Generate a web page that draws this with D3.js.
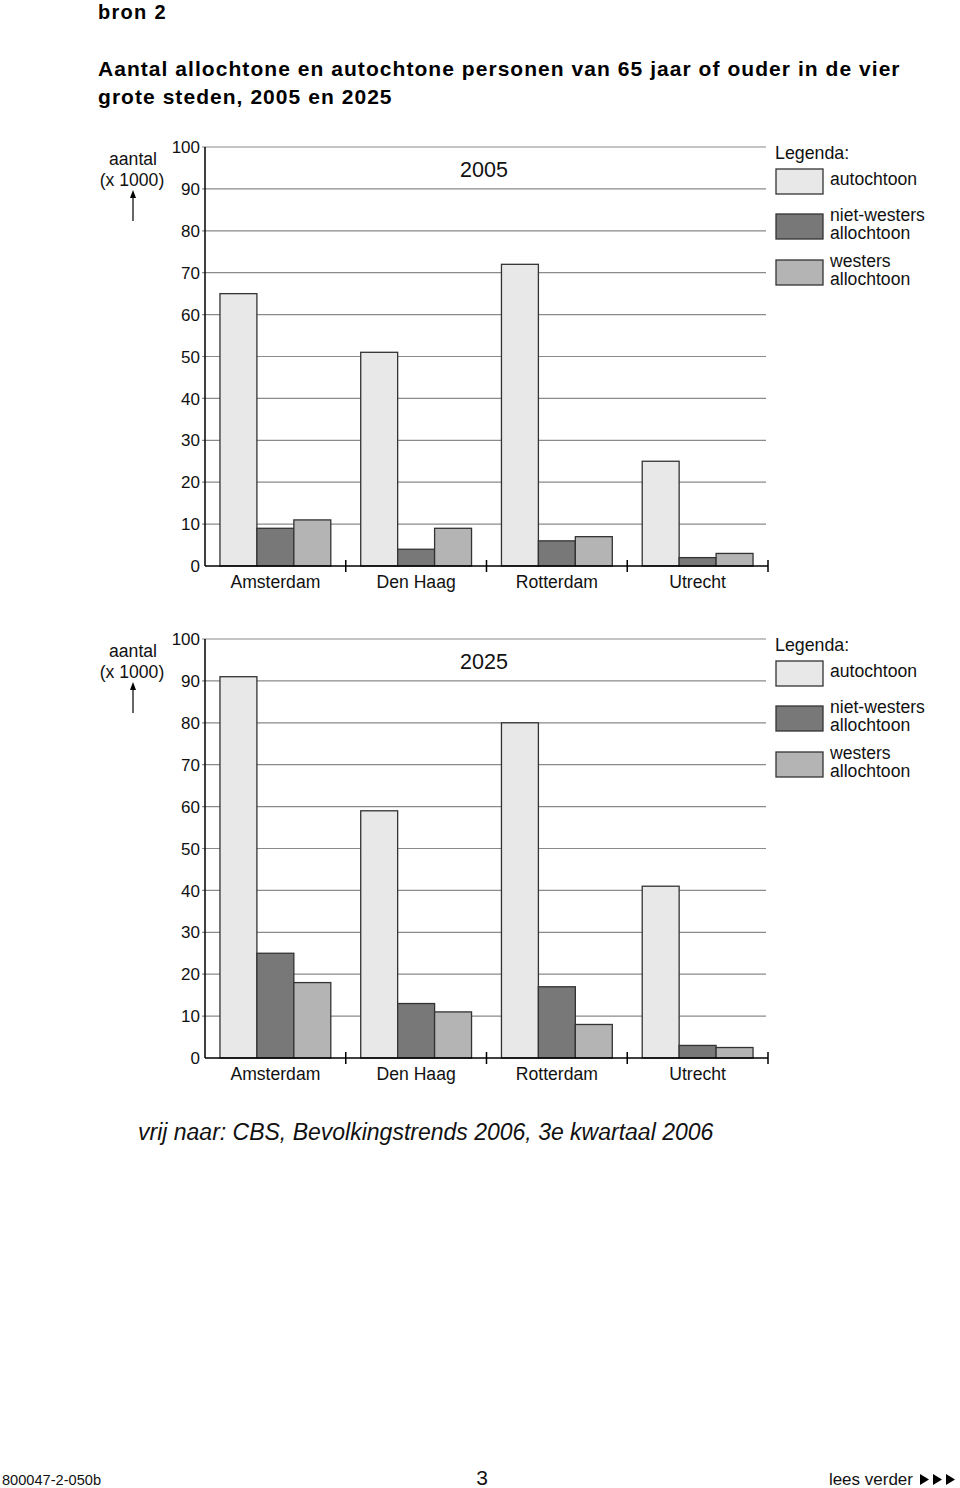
<!DOCTYPE html>
<html><head><meta charset="utf-8">
<script src="https://cdn.jsdelivr.net/npm/d3@7"></script>
<style>
body{margin:0;background:#fff;}
svg{display:block;font-family:"Liberation Sans",Arial,sans-serif;}
</style></head>
<body>
<svg id="c" width="960" height="1488"></svg>
<script>
const cities = ["Amsterdam","Den Haag","Rotterdam","Utrecht"];
const seriesKeys = ["autochtoon","niet-westers","westers"];
const legendLabels = [["autochtoon"],["niet-westers","allochtoon"],["westers","allochtoon"]];
const seriesColors = ["#e8e8e8","#787878","#b4b4b4"];
const autochtoon2005 = [65,51,72,25];
const nietWesters2005 = [9,4,6,2];
const westers2005 = [11,9,7,3];
const autochtoon2025 = [91,59,80,41];
const nietWesters2025 = [25,13,17,3];
const westers2025 = [18,11,8,2.5];
const yTicks = [0,10,20,30,40,50,60,70,80,90,100];
const years = ["2005","2025"];

const svg = d3.select("#c");

// header
svg.append("text").attr("x",98).attr("y",19).attr("font-size",20).attr("font-weight","bold").attr("letter-spacing",1.3).text("bron 2");
svg.append("text").attr("x",98).attr("y",76).attr("font-size",21).attr("font-weight","bold").attr("letter-spacing",1.05).text("Aantal allochtone en autochtone personen van 65 jaar of ouder in de vier");
svg.append("text").attr("x",98).attr("y",104).attr("font-size",21).attr("font-weight","bold").attr("letter-spacing",1.05).text("grote steden, 2005 en 2025");

function drawChart(offsetY, year, a, n, w){
  const g = svg.append("g").attr("transform",`translate(0,${offsetY})`);
  const y = d3.scaleLinear().domain([0,100]).range([566,147]);
  const x0 = d3.scaleBand().domain(cities).range([205,768]).padding(0);
  const x1 = d3.scaleBand().domain(seriesKeys).range([0,x0.bandwidth()]).paddingInner(0).paddingOuter(0.405);
  const data = cities.map((c,i)=>({city:c, vals:[a[i],n[i],w[i]]}));

  // gridlines
  g.append("g").selectAll("line").data(yTicks.filter(t=>t>0)).join("line")
    .attr("x1",202).attr("x2",766).attr("y1",d=>y(d)).attr("y2",d=>y(d))
    .attr("stroke","#8a8a8a").attr("stroke-width",1.2);

  // tick labels
  g.append("g").selectAll("text").data(yTicks).join("text")
    .attr("x",200).attr("y",d=>y(d)).attr("dy","0.36em").attr("text-anchor","end")
    .attr("font-size",17).attr("fill","#111").text(d=>d);

  // bars
  const grp = g.append("g").selectAll("g").data(data).join("g")
    .attr("transform",d=>`translate(${x0(d.city)},0)`);
  grp.selectAll("rect").data(d=>d.vals.map((v,j)=>({k:seriesKeys[j],v,j}))).join("rect")
    .attr("x",d=>x1(d.k)).attr("width",x1.bandwidth())
    .attr("y",d=>y(d.v)).attr("height",d=>y(0)-y(d.v))
    .attr("fill",d=>seriesColors[d.j]).attr("stroke","#333").attr("stroke-width",1.3);

  // axes lines
  g.append("line").attr("x1",205).attr("x2",205).attr("y1",y(100)).attr("y2",y(0)).attr("stroke","#000").attr("stroke-width",1.5);
  g.append("line").attr("x1",205).attr("x2",768).attr("y1",y(0)).attr("y2",y(0)).attr("stroke","#000").attr("stroke-width",1.5);
  // category separators
  const seps = cities.slice(1).map(c=>x0(c)).concat([x0.range()[1]]);
  g.append("g").selectAll("line").data(seps).join("line")
    .attr("x1",d=>d).attr("x2",d=>d).attr("y1",y(0)-6).attr("y2",y(0)+6)
    .attr("stroke","#000").attr("stroke-width",1.5);

  // category labels
  g.append("g").selectAll("text").data(cities).join("text")
    .attr("x",d=>x0(d)+x0.bandwidth()/2).attr("y",588).attr("text-anchor","middle")
    .attr("font-size",17.6).attr("fill","#111").text(d=>d);

  // year title
  g.append("text").attr("x",484).attr("y",177).attr("text-anchor","middle").attr("font-size",21.5).attr("fill","#111").text(year);

  // y label
  g.append("text").attr("x",133).attr("y",165).attr("text-anchor","middle").attr("font-size",17.6).attr("fill","#111").text("aantal");
  g.append("text").attr("x",132).attr("y",186).attr("text-anchor","middle").attr("font-size",17.6).attr("fill","#111").text("(x 1000)");
  g.append("line").attr("x1",133).attr("x2",133).attr("y1",221).attr("y2",196).attr("stroke","#000").attr("stroke-width",1.2);
  g.append("path").attr("d","M133,190 L130,198 L136,198 Z").attr("fill","#000");

  // legend
  g.append("text").attr("x",775).attr("y",159).attr("font-size",17.8).attr("fill","#111").text("Legenda:");
  const swY = [169,214,260];
  const lg = g.append("g").selectAll("g").data(legendLabels).join("g")
    .attr("transform",(d,i)=>`translate(0,${swY[i]})`);
  lg.append("rect").attr("x",776).attr("y",0).attr("width",47).attr("height",25)
    .attr("fill",(d,i)=>seriesColors[i]).attr("stroke","#333").attr("stroke-width",1.3);
  lg.each(function(d){
    const s = d3.select(this);
    if(d.length===1){
      s.append("text").attr("x",830).attr("y",16).attr("font-size",17.6).attr("fill","#111").text(d[0]);
    } else {
      s.append("text").attr("x",830).attr("y",7).attr("font-size",17.6).attr("fill","#111").text(d[0]);
      s.append("text").attr("x",830).attr("y",25).attr("font-size",17.6).attr("fill","#111").text(d[1]);
    }
  });
}

drawChart(0, years[0], autochtoon2005, nietWesters2005, westers2005);
drawChart(492, years[1], autochtoon2025, nietWesters2025, westers2025);

// source
svg.append("text").attr("x",138).attr("y",1140).attr("font-size",23).attr("font-style","italic").attr("fill","#111")
  .text("vrij naar: CBS, Bevolkingstrends 2006, 3e kwartaal 2006");

// footer
svg.append("text").attr("x",2).attr("y",1485).attr("font-size",14.6).attr("fill","#111").text("800047-2-050b");
svg.append("text").attr("x",482).attr("y",1485).attr("text-anchor","middle").attr("font-size",21).attr("fill","#111").text("3");
svg.append("text").attr("x",913).attr("y",1485).attr("text-anchor","end").attr("font-size",17).attr("fill","#111").text("lees verder");
[920,933,946].forEach(x=>{
  svg.append("path").attr("d",`M${x},1474 L${x+9},1479.5 L${x},1485 Z`).attr("fill","#000");
});
</script>
</body></html>
